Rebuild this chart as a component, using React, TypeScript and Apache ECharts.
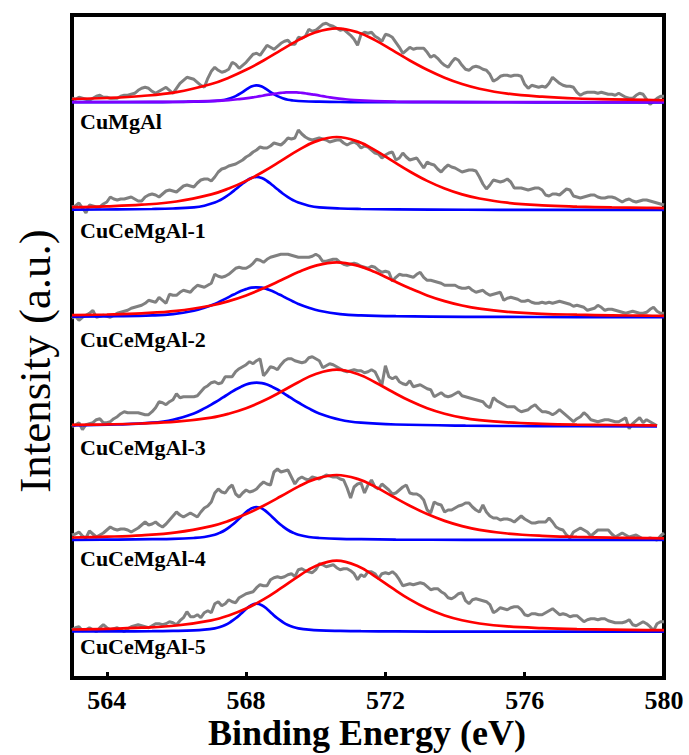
import React, { useEffect, useRef } from 'react';
import * as echarts from 'echarts';

// ---------- data ----------
const E_START = 563;
const E_STEP = 0.1;
const X_TICKS = [564, 568, 572, 576, 580];
const SAMPLES = ['CuMgAl', 'CuCeMgAl-1', 'CuCeMgAl-2', 'CuCeMgAl-3', 'CuCeMgAl-4', 'CuCeMgAl-5'];

// raw spectra (a.u.), 0.1 eV step starting at 563 eV
const GRAY_P1 = [
  4, 3, 5, 4, 3, 2, 4, 6, 7, 5,
  5, 4, 4, 4, 6, 7, 7, 8, 9, 12,
  14, 15, 14, 11, 9, 11, 13, 15, 12, 9,
  14, 19, 22, 25, 24, 23, 20, 17, 15, 24,
  31, 35, 32, 30, 31, 33, 40, 38, 34, 37,
  40, 44, 48, 49, 47, 52, 57, 55, 53, 56,
  59, 61, 62, 58, 58, 65, 64, 66, 73, 71,
  72, 75, 78, 79, 77, 76, 74, 72, 73, 70,
  67, 63, 57, 68, 70, 69, 70, 66, 64, 61,
  68, 67, 65, 60, 55, 49, 52, 55, 53, 54,
  54, 54, 50, 45, 47, 44, 40, 37, 35, 40,
  44, 42, 37, 33, 32, 35, 36, 35, 33, 32,
  28, 21, 23, 26, 27, 27, 26, 27, 27, 26,
  18, 14, 17, 16, 15, 16, 15, 19, 25, 22,
  19, 17, 16, 16, 15, 10, 7, 9, 10, 10,
  10, 9, 10, 9, 8, 8, 7, 9, 7, 5,
  4, 4, 7, 9, 8, 3, -2, 1, 4, 6,
  6,
];
const GRAY_P2 = [
  3, 4, 7, 2, -3, 5, 4, 3, 3, 6,
  8, 13, 11, 10, 11, 11, 12, 13, 11, 9,
  9, 13, 15, 16, 15, 13, 16, 19, 20, 19,
  18, 21, 24, 25, 24, 23, 27, 30, 31, 31,
  29, 33, 38, 41, 42, 44, 45, 46, 48, 50,
  53, 55, 58, 60, 63, 62, 62, 64, 67, 66,
  65, 68, 72, 71, 72, 80, 76, 73, 71, 70,
  71, 72, 71, 70, 68, 69, 70, 70, 67, 65,
  67, 68, 66, 62, 64, 63, 60, 57, 56, 52,
  55, 57, 58, 50, 52, 57, 53, 50, 51, 52,
  47, 42, 48, 46, 45, 41, 38, 42, 45, 43,
  42, 40, 38, 39, 40, 40, 39, 33, 26, 21,
  25, 30, 29, 28, 29, 31, 28, 22, 22, 22,
  21, 20, 21, 22, 22, 20, 15, 14, 16, 16,
  15, 18, 21, 20, 14, 13, 12, 13, 14, 15,
  15, 13, 12, 12, 13, 13, 12, 10, 8, 10,
  11, 9, 8, 9, 10, 10, 9, 8, 7, 6,
  5,
];
const GRAY_P3 = [
  -1, 1, -3, 0, 2, 4, 7, 0, 1, 2,
  1, 0, 2, 4, 5, 6, 7, 9, 10, 11,
  12, 14, 17, 16, 15, 20, 17, 14, 23, 22,
  22, 25, 27, 26, 25, 29, 32, 31, 30, 32,
  34, 43, 41, 40, 41, 43, 46, 49, 50, 49,
  49, 51, 54, 58, 57, 55, 58, 60, 61, 62,
  63, 63, 63, 62, 61, 60, 60, 60, 60, 61,
  63, 61, 56, 56, 57, 58, 58, 55, 53, 52,
  53, 54, 53, 51, 50, 49, 51, 50, 47, 45,
  46, 45, 36, 40, 43, 42, 42, 41, 40, 43,
  45, 40, 37, 37, 36, 35, 34, 32, 32, 32,
  32, 30, 29, 29, 30, 27, 25, 26, 27, 24,
  22, 23, 24, 25, 17, 19, 20, 19, 18, 16,
  16, 17, 15, 14, 14, 15, 14, 15, 14, 15,
  16, 15, 14, 13, 11, 12, 11, 10, 7, 8,
  9, 12, 10, 7, 8, 8, 7, 6, 5, 4,
  5, 6, 5, 4, 4, 5, 8, 10, 6, 4,
  4,
];
const GRAY_P4 = [
  0, 2, 4, -3, 2, 3, 4, 7, 8, 4,
  4, 5, 8, 10, 13, 15, 14, 14, 14, 14,
  13, 12, 12, 15, 19, 25, 24, 22, 25, 27,
  33, 29, 30, 30, 30, 30, 31, 35, 39, 41,
  44, 45, 43, 44, 50, 50, 50, 55, 58, 60,
  62, 65, 63, 66, 68, 51, 55, 60, 59, 57,
  62, 66, 68, 68, 66, 65, 64, 65, 69, 70,
  68, 66, 59, 61, 63, 62, 60, 58, 56, 55,
  56, 57, 56, 56, 54, 55, 57, 55, 48, 42,
  61, 50, 48, 50, 45, 43, 42, 46, 40, 41,
  42, 40, 38, 37, 30, 32, 34, 31, 30, 31,
  33, 35, 31, 30, 29, 28, 27, 26, 25, 21,
  19, 29, 26, 24, 22, 20, 20, 20, 17, 15,
  16, 17, 20, 22, 18, 15, 15, 14, 12, 14,
  17, 14, 11, 8, 5, 8, 10, 14, 11, 7,
  6, 5, 6, 7, 7, 6, 5, 5, 7, 9,
  -2, 3, 6, 9, 4, 7, 5, 3, 1,
];
const GRAY_P5 = [
  5, 6, 8, 4, 2, 9, 6, 3, 5, 7,
  10, 13, 11, 10, 11, 11, 10, 8, 10, 12,
  15, 18, 15, 16, 18, 15, 13, 16, 20, 24,
  28, 25, 23, 25, 27, 25, 23, 28, 32, 34,
  38, 47, 51, 48, 47, 52, 55, 46, 43, 47,
  50, 48, 49, 51, 55, 58, 56, 55, 68, 71,
  68, 69, 70, 63, 56, 61, 63, 61, 60, 63,
  62, 61, 63, 65, 64, 63, 63, 61, 60, 52,
  42, 53, 56, 57, 47, 55, 60, 53, 51, 56,
  53, 50, 46, 47, 50, 53, 55, 47, 46, 46,
  44, 40, 30, 27, 38, 36, 35, 28, 30, 30,
  32, 34, 35, 37, 37, 33, 30, 28, 35, 28,
  24, 22, 22, 20, 21, 21, 20, 18, 21, 24,
  21, 19, 17, 17, 18, 18, 18, 22, 18, 13,
  11, 10, 5, 2, 8, 10, 12, 10, 8, 4,
  7, 10, 10, 10, 10, 6, 3, 5, 7, 5,
  3, 4, 5, 3, 1, 1, 2, 1, 0, 4,
  7,
];
const GRAY_P6 = [
  2, 4, 5, 1, 2, 4, 2, 0, 4, 7,
  4, 2, 3, 4, 2, 0, 3, 5, 6, 7,
  6, 5, 4, 6, 8, 8, 7, 8, 10, 9,
  7, 11, 14, 20, 15, 15, 17, 14, 19, 21,
  19, 28, 30, 26, 28, 32, 30, 29, 34, 36,
  38, 39, 40, 44, 47, 46, 46, 52, 54, 55,
  54, 55, 57, 58, 55, 62, 63, 61, 60, 59,
  62, 68, 67, 65, 66, 67, 64, 62, 63, 63,
  61, 58, 52, 57, 55, 60, 60, 58, 53, 58,
  59, 58, 60, 57, 52, 46, 47, 48, 47, 48,
  49, 48, 45, 42, 43, 43, 40, 38, 34, 33,
  35, 38, 39, 31, 28, 32, 33, 32, 31, 30,
  27, 19, 21, 24, 23, 22, 24, 25, 25, 22,
  17, 16, 18, 18, 17, 17, 19, 21, 23, 20,
  17, 18, 17, 15, 16, 16, 13, 10, 12, 13,
  13, 12, 13, 13, 11, 10, 9, 9, 9, 10,
  12, 7, 6, 8, 10, 8, 5, 1, 8, 10,
  10,
];

// fitted component at ~570.6 eV (red)
const RED_E = [563, 564, 565, 566, 567, 567.5, 568, 568.5, 569, 569.5, 570, 570.6, 571.2, 571.7, 572.2, 572.7, 573.2, 573.7, 574.2, 574.7, 575.5, 576.5, 577.5, 578.5, 579.5, 580];
const RED_P1 = [3.3, 4.3, 6.3, 10.2, 18.3, 24.6, 32.5, 41.8, 52.1, 62.2, 70.1, 74, 70.1, 62.2, 52.1, 41.8, 32.5, 24.6, 18.3, 13.6, 8.7, 5.6, 3.8, 3.0, 2.4, 2.1];
const RED_P2 = [2.8, 3.7, 5.3, 8.5, 15.6, 21.5, 29.1, 38.5, 49.1, 59.9, 68.6, 73, 68.6, 59.9, 49.1, 38.5, 29.1, 21.5, 15.6, 11.5, 7.3, 4.7, 3.4, 2.6, 2.1, 1.9];
const RED_P3 = [2.1, 2.8, 4.0, 6.4, 11.8, 16.2, 21.9, 29.0, 37.0, 45.2, 51.7, 55, 51.7, 45.2, 37.0, 29.0, 21.9, 16.2, 11.8, 8.6, 5.5, 3.5, 2.6, 2.0, 1.6, 1.4];
const RED_P4 = [1.8, 2.3, 3.2, 5.0, 9.1, 13.0, 18.5, 25.9, 34.9, 44.5, 52.7, 57, 52.7, 44.5, 34.9, 25.9, 18.5, 13.0, 9.1, 6.6, 4.3, 2.9, 2.1, 1.7, 1.3, 1.2];
const RED_P5 = [2.5, 3.3, 4.7, 7.6, 13.9, 19.1, 25.9, 34.3, 43.7, 53.4, 61.1, 65, 61.1, 53.4, 43.7, 34.3, 25.9, 19.1, 13.9, 10.2, 6.5, 4.2, 3.1, 2.3, 1.9, 1.7];
const RED_P6 = [2.2, 2.8, 4.0, 6.2, 11.4, 16.2, 23.1, 32.3, 43.5, 55.4, 65.7, 71, 65.7, 55.4, 43.5, 32.3, 23.1, 16.2, 11.4, 8.2, 5.3, 3.6, 2.6, 2.1, 1.6, 1.5];

// fitted component at ~568.3 eV (blue)
const BLUE_E = [563, 564.3, 565.3, 565.9, 566.5, 566.8, 567.1, 567.25, 567.4, 567.55, 567.7, 567.85, 568.0, 568.15, 568.3, 568.45, 568.6, 568.75, 568.9, 569.05, 569.2, 569.35, 569.5, 569.8, 570.1, 570.7, 571.3, 572.3, 574.3, 576.3, 580];
const BLUE_P1 = [0.1, 0.1, 0.2, 0.3, 0.6, 0.8, 1.3, 1.8, 2.6, 4.1, 6.2, 9.1, 12.6, 15.7, 17, 15.7, 12.6, 9.1, 6.2, 4.1, 2.6, 1.8, 1.3, 0.8, 0.6, 0.3, 0.2, 0.1, 0.1, 0, 0];
const BLUE_P2 = [0.3, 0.6, 1.0, 1.5, 2.7, 4.3, 7.4, 9.8, 12.9, 16.5, 20.7, 25.0, 29.0, 31.9, 33, 31.9, 29.0, 25.0, 20.7, 16.5, 12.9, 9.8, 7.4, 4.3, 2.7, 1.5, 1.0, 0.6, 0.25, 0.15, 0.07];
const BLUE_P3 = [0.6, 1.1, 1.9, 3.2, 6.5, 9.5, 13.4, 15.8, 18.4, 21.2, 23.7, 26.2, 28.2, 29.6, 30, 29.6, 28.2, 26.2, 23.7, 21.2, 18.4, 15.8, 13.4, 9.5, 6.5, 3.2, 1.9, 1.1, 0.5, 0.3, 0.1];
const BLUE_P4 = [1.2, 2.2, 4.0, 7.0, 13.3, 18.3, 24.2, 27.3, 30.7, 34.0, 37.2, 39.8, 42.1, 43.6, 44, 43.6, 42.1, 39.8, 37.2, 34.0, 30.7, 27.3, 24.2, 18.3, 13.3, 7.0, 4.0, 2.2, 1.0, 0.6, 0.3];
const BLUE_P5 = [0.2, 0.4, 0.8, 1.1, 2.0, 3.0, 5.3, 7.3, 10.0, 13.7, 18.1, 23.0, 27.9, 31.6, 33, 31.6, 27.9, 23.0, 18.1, 13.7, 10.0, 7.3, 5.3, 3.0, 2.0, 1.1, 0.8, 0.4, 0.2, 0.1, 0.05];
const BLUE_P6 = [0.2, 0.3, 0.5, 0.8, 1.3, 2.0, 3.4, 4.7, 6.7, 9.7, 13.4, 17.9, 22.7, 26.5, 28, 26.5, 22.7, 17.9, 13.4, 9.7, 6.7, 4.7, 3.4, 2.0, 1.3, 0.8, 0.5, 0.3, 0.1, 0.1, 0];

// extra component in CuMgAl (purple)
const PURPLE_E = [563, 565.3, 566.3, 566.9, 567.5, 567.8, 568.1, 568.25, 568.4, 568.55, 568.7, 568.85, 569.0, 569.15, 569.3, 569.45, 569.6, 569.75, 569.9, 570.05, 570.2, 570.35, 570.5, 570.8, 571.1, 571.7, 572.3, 573.3, 575.3, 580];
const PURPLE_P1 = [0.2, 0.4, 0.6, 1.1, 2.2, 3.2, 4.5, 5.3, 6.1, 7.1, 7.9, 8.7, 9.4, 9.9, 10, 9.9, 9.4, 8.7, 7.9, 7.1, 6.1, 5.3, 4.5, 3.2, 2.2, 1.1, 0.6, 0.4, 0.2, 0.1];

// last measured energy of each spectrum
const PANEL_END = [580, 580, 580, 579.8, 580, 580];

// ---------- layout ----------
const STACK_OFFSET = [575.7, 468, 360.7, 251.3, 138, 46.3];
const LABEL_Y = [121, 230, 339, 447, 558, 646];

const GRAYS = [GRAY_P1, GRAY_P2, GRAY_P3, GRAY_P4, GRAY_P5, GRAY_P6];
const REDS = [RED_P1, RED_P2, RED_P3, RED_P4, RED_P5, RED_P6];
const BLUES = [BLUE_P1, BLUE_P2, BLUE_P3, BLUE_P4, BLUE_P5, BLUE_P6];

const SERIF = '"Liberation Serif", "Times New Roman", serif';

function pairs(es: number[], vs: number[], off: number, end: number) {
  const out: number[][] = [];
  for (let i = 0; i < vs.length; i++) {
    const e = Math.min(es[i], end);
    out.push([e, off + vs[i]]);
    if (es[i] >= end) break;
  }
  return out;
}

function lineSeries(data: number[][], color: string, smooth: boolean, width = 2.7) {
  return {
    type: 'line',
    data,
    symbol: 'none',
    smooth: smooth ? 0.4 : false,
    silent: true,
    lineStyle: { color, width },
    itemStyle: { color },
    emphasis: { disabled: true },
  };
}

export default function App() {
  const ref = useRef<HTMLDivElement>(null);
  useEffect(() => {
    document.body.style.margin = '0';
    const chart = echarts.init(ref.current!, undefined, { renderer: 'svg' });
    const series: any[] = [];
    for (let k = 0; k < 6; k++) {
      const off = STACK_OFFSET[k];
      const grayData = GRAYS[k].map((v, i) => [Math.round((E_START + i * E_STEP) * 10) / 10, off + v]);
      series.push(lineSeries(grayData, '#808080', false, 3));
      series.push(lineSeries(pairs(BLUE_E, BLUES[k], off, PANEL_END[k]), '#0000ff', true));
      if (k === 0) series.push(lineSeries(pairs(PURPLE_E, PURPLE_P1, off, PANEL_END[k]), '#8000ff', true));
      series.push(lineSeries(pairs(RED_E, REDS[k], off, PANEL_END[k]), '#ff0000', true));
    }
    const graphics: any[] = SAMPLES.map((s, k) => ({
      type: 'text',
      x: 80,
      y: LABEL_Y[k],
      style: { text: s, font: `bold 22px ${SERIF}`, fill: '#000', align: 'left', verticalAlign: 'middle' },
    }));
    graphics.push({
      type: 'text', x: 367, y: 733,
      style: { text: 'Binding Energy (eV)', font: `bold 36px ${SERIF}`, fill: '#000', align: 'center', verticalAlign: 'middle' },
    });
    graphics.push({
      type: 'text', x: 35, y: 361, rotation: Math.PI / 2,
      style: { text: 'Intensity (a.u.)', font: `45px ${SERIF}`, fill: '#000', align: 'center', verticalAlign: 'middle' },
    });
    chart.setOption({
      animation: false,
      backgroundColor: '#ffffff',
      grid: { left: 72, right: 25, top: 15, bottom: 77, show: true, borderColor: '#000', borderWidth: 4, backgroundColor: 'transparent' },
      xAxis: {
        type: 'value', min: 563, max: 580,
        axisLine: { show: false },
        splitLine: { show: false },
        axisTick: { show: true, inside: true, length: 6, lineStyle: { color: '#000', width: 3 }, customValues: X_TICKS },
        axisLabel: { customValues: X_TICKS, color: '#000', fontSize: 26, fontWeight: 'bold', fontFamily: SERIF, margin: 9 },
      },
      yAxis: { type: 'value', min: 0, max: 663, show: false },
      series,
      graphic: graphics,
    });
    return () => chart.dispose();
  }, []);
  return <div ref={ref} style={{ width: 689, height: 755, position: 'absolute', left: 0, top: 0 }} />;
}
